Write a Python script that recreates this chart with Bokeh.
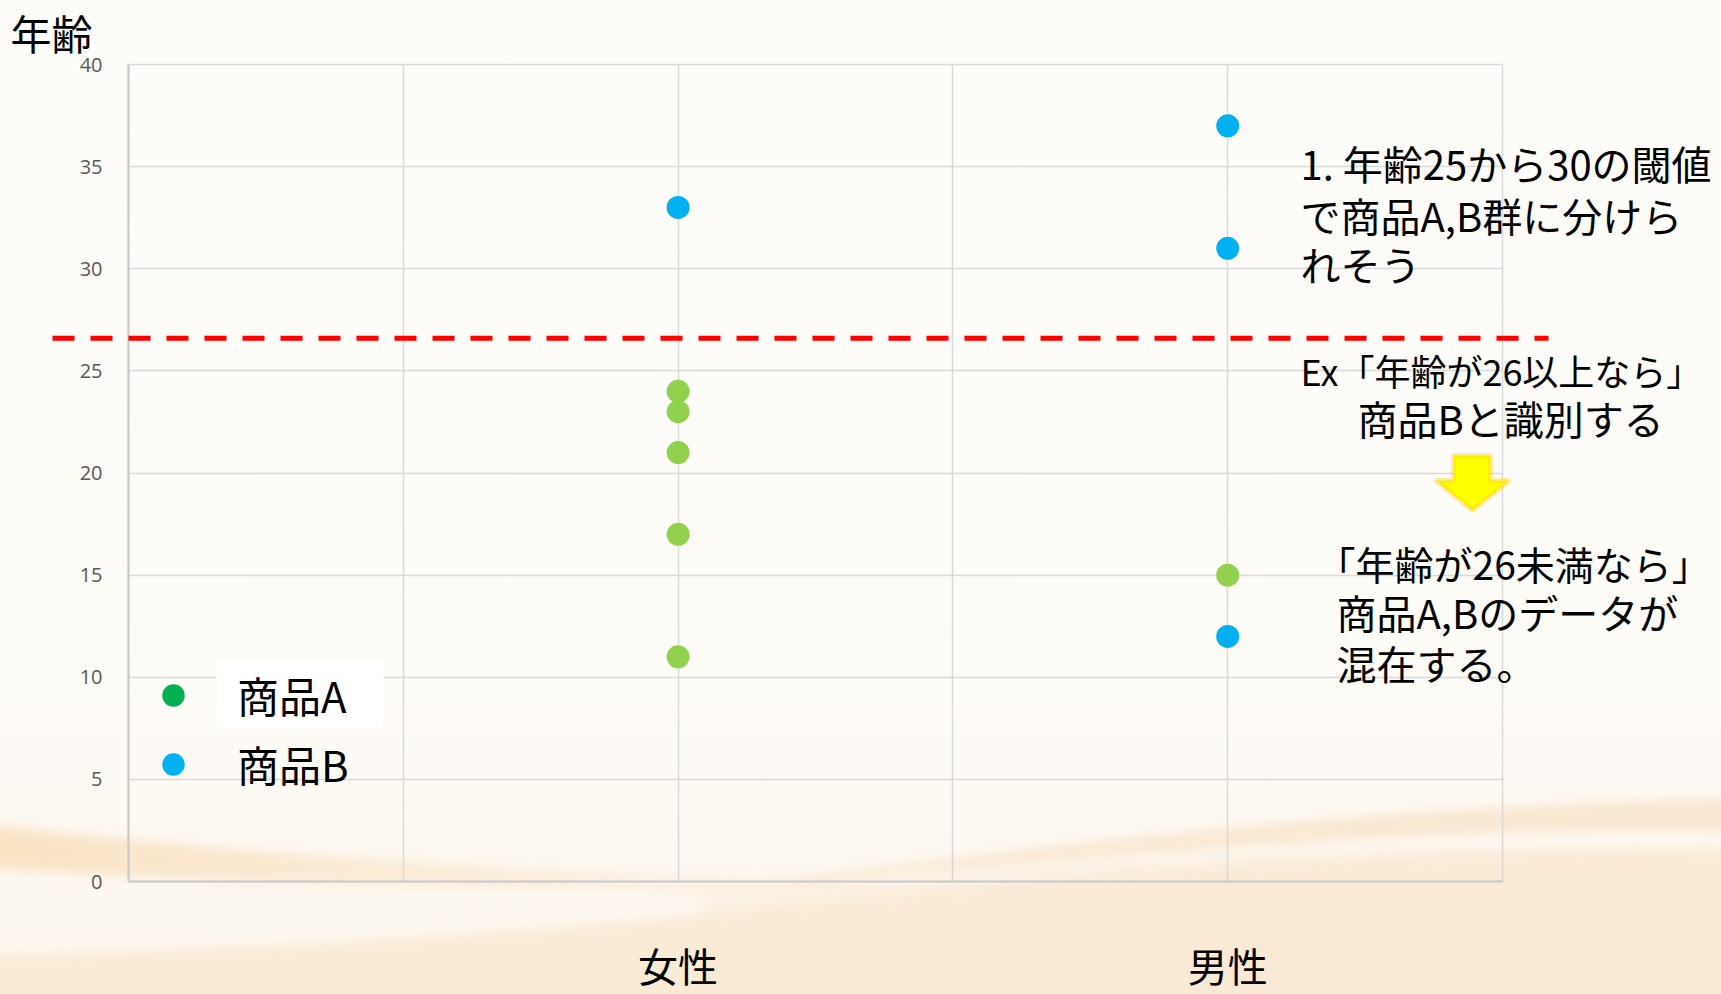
from bokeh.plotting import figure
from bokeh.models import (FixedTicker, Label, Arrow, PolyAnnotation, BoxAnnotation,
                          Legend, LegendItem, InlineStyleSheet, ColumnDataSource)
from bokeh.embed import file_html
from bokeh.resources import INLINE

# ---------------- data ----------------
categories = ["女性", "男性"]
category_pos = [2, 4]
x_grid_ticks = [0, 1, 2, 3, 4, 5]
y_ticks = [0, 5, 10, 15, 20, 25, 30, 35, 40]

a_gender = ["女性", "女性", "女性", "女性", "女性", "男性"]
a_age = [24, 23, 21, 17, 11, 15]
b_gender = ["女性", "男性", "男性", "男性"]
b_age = [33, 37, 31, 12]

threshold = 26.6

note1 = ["1. 年齢25から30の閾値", "で商品A,B群に分けら", "れそう"]
note2 = ["Ex「年齢が26以上なら」", "商品Bと識別する"]
note3 = ["「年齢が26未満なら」", "商品A,Bのデータが", "混在する。"]

JP = "Noto Sans CJK JP"

pos = dict(zip(categories, category_pos))
src_a = ColumnDataSource(dict(x=[pos[g] for g in a_gender], y=a_age))
src_b = ColumnDataSource(dict(x=[pos[g] for g in b_gender], y=b_age))

# decorative slide background (soft waves), as an SVG image in CSS
bg_svg = (
    "<svg xmlns='http://www.w3.org/2000/svg' width='1721' height='994' viewBox='0 0 1721 994' preserveAspectRatio='none'>"
    "<defs><linearGradient id='g' x1='0' y1='0' x2='0' y2='1'>"
    "<stop offset='0' stop-color='%23FDFCF9'/><stop offset='0.7' stop-color='%23FDFBF6'/>"
    "<stop offset='1' stop-color='%23FCF6EE'/></linearGradient>"
    "<linearGradient id='b' x1='0' y1='0' x2='1' y2='0'>"
    "<stop offset='0' stop-color='%23F9DDB8' stop-opacity='0.8'/>"
    "<stop offset='0.5' stop-color='%23FAE3C6' stop-opacity='0.6'/>"
    "<stop offset='1' stop-color='%23FAE6CC' stop-opacity='0.4'/></linearGradient>"
    "<filter id='f' x='-5%' y='-5%' width='110%' height='110%'><feGaussianBlur stdDeviation='6'/></filter></defs>"
    "<rect width='1721' height='994' fill='url(%23g)'/>"
    "<g filter='url(%23f)'>"
    "<path d='M-20,824 C220,850 480,872 900,884 C600,894 300,887 -20,868 Z' fill='url(%23b)'/>"
    "<path d='M-20,955 C320,950 620,925 880,897 C1120,870 1420,852 1740,848 L1740,1010 L-20,1010 Z' fill='%23FAEBD6'/>"
    "<path d='M620,902 C1000,850 1350,805 1740,798 L1740,832 C1450,826 1150,848 620,902 Z' fill='%23F9E4C8' fill-opacity='0.8'/>"
    "<path d='M700,900 C1050,862 1400,840 1740,848 L1740,1010 L700,1010 Z' fill='%23FAE9D3' fill-opacity='0.5'/>"
    "</g></svg>"
)
css = InlineStyleSheet(css=':host { background: url("data:image/svg+xml;utf8,' + bg_svg
                       + '") no-repeat; background-size: 100% 100%; }')

W, H = 1721, 994
L, R, T, B = 128, 1502, 64, 881      # plot-area box in pixels
XMIN, XMAX, YMIN, YMAX = 0, 5, 0, 40
sx = (R - L) / (XMAX - XMIN)
sy = (B - T) / (YMAX - YMIN)

p = figure(width=W, height=H, min_border=0,
           x_range=(XMIN - L / sx, XMAX + (W - R) / sx),
           y_range=(YMIN - (H - B) / sy, YMAX + T / sy),
           output_backend="svg", toolbar_location=None)
p.stylesheets = [css]
p.background_fill_alpha = 0
p.border_fill_alpha = 0
p.outline_line_color = None

# grid limited to the plot box
p.xgrid.ticker = FixedTicker(ticks=x_grid_ticks)
p.ygrid.ticker = FixedTicker(ticks=y_ticks)
p.xgrid.bounds = (XMIN, XMAX)
p.ygrid.bounds = (YMIN, YMAX)
p.xgrid.cross_bounds = (YMIN, YMAX)
p.ygrid.cross_bounds = (XMIN, XMAX)
for g in (p.xgrid, p.ygrid):
    g.grid_line_color = "#D9D9D9"
    g.grid_line_width = 1.5

# axes drawn inside the canvas at fixed locations
p.yaxis.fixed_location = XMIN
p.yaxis.bounds = (YMIN, YMAX)
p.yaxis.ticker = FixedTicker(ticks=y_ticks)
p.yaxis.major_label_text_font = "Open Sans"
p.yaxis.major_label_text_font_size = "20px"
p.yaxis.major_label_text_color = "#595959"
p.yaxis.major_label_standoff = 20
p.yaxis.axis_line_color = "#C8C8C8"
p.yaxis.axis_line_width = 2
p.yaxis.major_tick_line_color = None
p.yaxis.minor_tick_line_color = None

p.xaxis.fixed_location = YMIN
p.xaxis.bounds = (XMIN, XMAX)
p.xaxis.ticker = FixedTicker(ticks=x_grid_ticks)
overrides = {t: "" for t in x_grid_ticks}
overrides.update({pos[c]: c for c in categories})
p.xaxis.major_label_overrides = overrides
p.xaxis.major_label_text_font = JP
p.xaxis.major_label_text_font_size = "40px"
p.xaxis.major_label_text_color = "#000000"
p.xaxis.major_label_standoff = 48
p.xaxis.axis_line_color = "#C8C8C8"
p.xaxis.axis_line_width = 2
p.xaxis.major_tick_line_color = None
p.xaxis.minor_tick_line_color = None

def px_x(v):
    return XMIN + (v - L) / sx

def px_y(v):
    return YMIN + (B - v) / sy

# legend white box (behind 商品A)
p.add_layout(BoxAnnotation(left=px_x(216), right=px_x(383), top=px_y(659), bottom=px_y(728),
                           fill_color="white", fill_alpha=1, line_color=None, level="glyph"))

# points
p.scatter("x", "y", source=src_a, size=23, fill_color="#92D050", line_color=None)
p.scatter("x", "y", source=src_b, size=23, fill_color="#00B0F0", line_color=None)

# legend (markers in the legend colours; NaN points are not drawn in the plot)
nan = float("nan")
leg_a = p.scatter([nan], [nan], size=22, fill_color="#00B050", line_color=None)
leg_b = p.scatter([nan], [nan], size=26, fill_color="#00B0F0", line_color=None)
legend = Legend(items=[LegendItem(label="商品A", renderers=[leg_a]),
                       LegendItem(label="商品B", renderers=[leg_b])],
                location=(145, 200), orientation="vertical",
                glyph_width=56, glyph_height=60, label_standoff=36, spacing=8,
                padding=0, margin=0, border_line_color=None, background_fill_alpha=0,
                label_text_font=JP, label_text_font_size="42px", label_text_color="#000000")
p.add_layout(legend)

# threshold line
p.add_layout(Arrow(end=None, x_start=px_x(52), x_end=px_x(1548), y_start=threshold, y_end=threshold,
                   line_color="#FF0000", line_width=5, line_dash="22 16"))

# y title
p.add_layout(Label(x=px_x(10), y=px_y(31), text="年齢", text_font=JP, text_font_size="41px",
                   text_color="#000000", text_baseline="middle", text_align="left"))

# notes
def add_lines(lines, xs, ys, sizes):
    for t, x, y, s in zip(lines, xs, ys, sizes):
        p.add_layout(Label(x=px_x(x), y=px_y(y), text=t, text_font=JP, text_font_size=s,
                           text_color="#000000", text_baseline="middle", text_align="left"))

add_lines(note1, [1300, 1300, 1300], [162, 214, 263], ["40px", "40px", "40px"])
add_lines(note2, [1300, 1357], [369, 417], ["36px", "40px"])
add_lines(note3, [1316, 1336, 1336], [562, 611, 662], ["39px", "40px", "40px"])

# yellow arrow
ax = [1453, 1490, 1490, 1509, 1472, 1435, 1453]
ay = [455, 455, 480, 480, 510, 480, 480]
p.add_layout(PolyAnnotation(xs=[px_x(v) for v in ax], ys=[px_y(v) for v in ay],
                            fill_color="#FFFF00", fill_alpha=1, line_color="#FFC000", line_width=5))

open("out.html", "w").write(file_html(p, INLINE))
